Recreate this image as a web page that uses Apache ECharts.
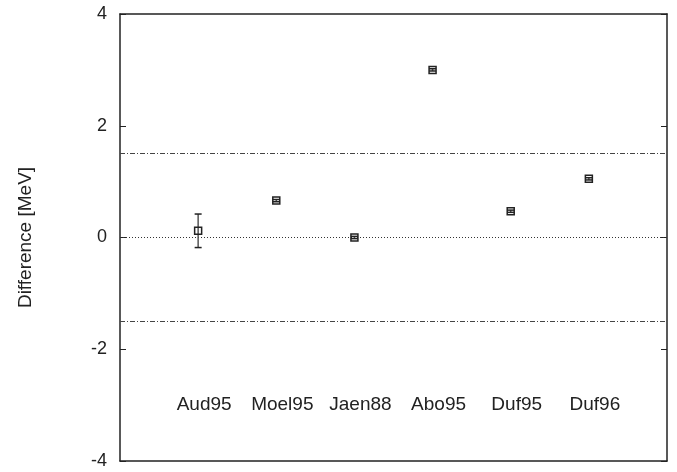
<!DOCTYPE html>
<html>
<head>
<meta charset="utf-8">
<script src="https://cdn.jsdelivr.net/npm/echarts@6/dist/echarts.min.js"></script>
</head>
<body style="margin:0; background:#fff">
<div id="container" style="width:677px; height:472px"></div>
<script type="text/javascript">
    // measurements (x slot, difference, error)
    var labels = ['Aud95', 'Moel95', 'Jaen88', 'Abo95', 'Duf95', 'Duf96'];
    var slots = [1, 2, 3, 4, 5, 6];
    var values = [0.12, 0.66, 0.0, 3.0, 0.47, 1.05];
    var errors = [0.30, 0.02, 0.02, 0.02, 0.02, 0.02];
    var yMin = -4, yMax = 4, yStep = 2;
    var bandLimit = 1.5;
    var labelLevel = -3;

    var data = [];
    for (var i = 0; i < labels.length; i++) {
        data.push([slots[i], values[i], errors[i], labels[i]]);
    }

    var ink = '#222';
    var font = 'Liberation Sans, Arial, sans-serif';

    function renderItem(params, api) {
        var x = api.value(0), y = api.value(1), e = api.value(2);
        var c = api.coord([x, y]);
        var hi = api.coord([x, y + e]);
        var lo = api.coord([x, y - e]);
        var t = api.coord([x, labelLevel]);
        var w = 3.5;
        return {
            type: 'group',
            children: [
                {type: 'line', shape: {x1: c[0], y1: hi[1], x2: c[0], y2: lo[1]},
                    style: {stroke: '#555', lineWidth: 1.5}},
                {type: 'line', shape: {x1: c[0] - w, y1: hi[1], x2: c[0] + w, y2: hi[1]},
                    style: {stroke: ink, lineWidth: 1.5}},
                {type: 'line', shape: {x1: c[0] - w, y1: lo[1], x2: c[0] + w, y2: lo[1]},
                    style: {stroke: ink, lineWidth: 1.5}},
                {type: 'rect', shape: {x: c[0] - 3.5, y: c[1] - 3.5, width: 7, height: 7},
                    style: {fill: 'none', stroke: ink, lineWidth: 1.5}},
                {type: 'text', x: t[0] + 6, y: t[1],
                    style: {text: api.value(3), fill: ink, font: '19px ' + font,
                        align: 'center', verticalAlign: 'middle'}}
            ]
        };
    }

    function frameAxis(pos) {
        return {type: 'value', min: 0, max: 7, position: pos,
            axisLine: {onZero: false, lineStyle: {color: ink, width: 1.5}},
            axisTick: {show: false}, axisLabel: {show: false}, splitLine: {show: false}};
    }

    var myChart = echarts.init(document.getElementById('container'));
    var option = {
        animation: false,
        grid: {left: 120, right: 10, top: 14, bottom: 11},
        xAxis: [frameAxis('bottom'), frameAxis('top')],
        yAxis: [
            {type: 'value', min: yMin, max: yMax, interval: yStep, position: 'left',
                name: 'Difference [MeV]', nameLocation: 'middle', nameGap: 85,
                nameTextStyle: {color: ink, fontSize: 19, fontFamily: font},
                axisLine: {onZero: false, lineStyle: {color: ink, width: 1.5}},
                axisTick: {inside: true, length: 6, lineStyle: {color: ink}},
                axisLabel: {color: ink, fontSize: 18, fontFamily: font, margin: 13},
                splitLine: {show: false}},
            {type: 'value', min: yMin, max: yMax, interval: yStep, position: 'right',
                axisLine: {onZero: false, lineStyle: {color: ink, width: 1.5}},
                axisTick: {inside: true, length: 6, lineStyle: {color: ink}},
                axisLabel: {show: false}, splitLine: {show: false}}
        ],
        series: [{
            type: 'custom',
            renderItem: renderItem,
            data: data,
            z: 5,
            markLine: {
                silent: true,
                symbol: 'none',
                label: {show: false},
                data: [
                    {yAxis: 0, lineStyle: {type: [1, 2], color: '#333', width: 1}},
                    {yAxis: bandLimit, lineStyle: {type: [5, 2, 1, 2], color: '#444', width: 1}},
                    {yAxis: -bandLimit, lineStyle: {type: [5, 2, 1, 2], color: '#444', width: 1}}
                ]
            }
        }]
    };
    myChart.setOption(option);
</script>
</body>
</html>
